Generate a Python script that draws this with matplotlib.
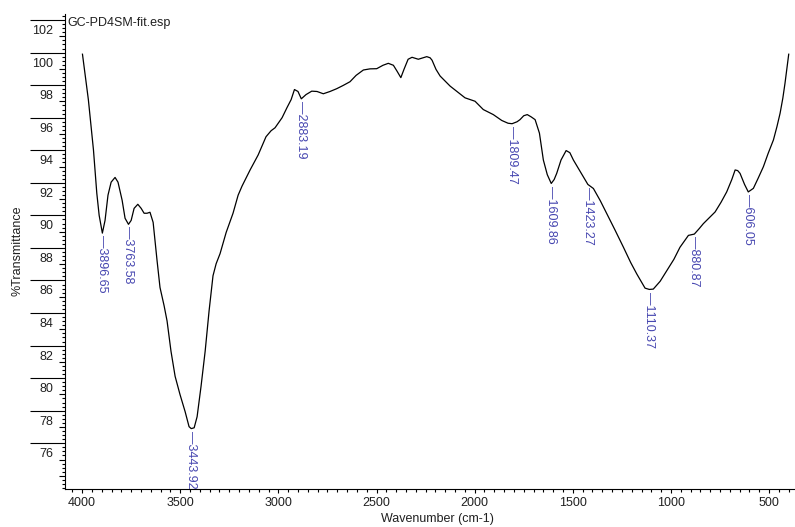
import numpy as np
import matplotlib
matplotlib.use("Agg")
import matplotlib.pyplot as plt
from matplotlib.ticker import FixedLocator, MultipleLocator, FuncFormatter
from matplotlib.transforms import ScaledTranslation

plt.rcParams['font.family'] = ['Liberation Sans', 'DejaVu Sans']

# IR spectrum, wavenumber (cm-1) vs %T
wavenumber = [3998, 3968, 3942, 3925, 3913, 3896.65, 3883, 3868, 3852, 3832,
              3817, 3796, 3781, 3763.58, 3750, 3735, 3716, 3699, 3684, 3669,
              3654, 3638, 3618, 3603, 3582, 3567, 3547, 3526, 3501, 3475,
              3455, 3443.92, 3429, 3414, 3394, 3373, 3353, 3333, 3317, 3297,
              3266, 3231, 3205, 3185, 3144, 3103, 3063, 3037, 3017, 2981,
              2956, 2935, 2918, 2900, 2883.19, 2859, 2830, 2803, 2771, 2737,
              2703, 2670, 2635, 2604, 2567, 2533, 2499, 2467, 2440, 2414,
              2395, 2376, 2360, 2339, 2319, 2287, 2263, 2244, 2227, 2217,
              2197, 2176, 2125, 2049, 1998, 1956, 1905, 1862, 1830, 1809.47,
              1784, 1769, 1750, 1732, 1712, 1692, 1670, 1650, 1630, 1609.86,
              1595, 1582, 1560, 1534, 1515, 1497, 1470, 1446, 1423.27, 1395,
              1360, 1327, 1285, 1242, 1205, 1174, 1132, 1110.37, 1090, 1055,
              1021, 985, 954, 911, 880.87, 855, 835, 805, 775, 745,
              716, 690, 673, 660, 648, 625, 606.05, 580, 555, 529,
              505, 478, 460, 444, 430, 419, 400]
transmittance = [99.90, 97.11, 94.02, 91.36, 90.00, 88.91, 89.69, 91.24, 92.04, 92.33,
                 92.04, 90.93, 89.82, 89.45, 89.69, 90.43, 90.68, 90.43, 90.13, 90.13,
                 90.19, 89.57, 87.22, 85.57, 84.44, 83.51, 81.65, 80.11, 78.99, 77.94,
                 77.02, 76.90, 76.95, 77.63, 79.49, 81.65, 84.13, 86.29, 87.03, 87.65,
                 88.95, 90.13, 91.24, 91.80, 92.79, 93.71, 94.83, 95.20, 95.38, 96.00,
                 96.62, 97.11, 97.73, 97.61, 97.16, 97.42, 97.63, 97.61, 97.47, 97.61,
                 97.78, 97.98, 98.21, 98.60, 98.93, 99.00, 99.01, 99.22, 99.34, 99.22,
                 98.85, 98.46, 98.97, 99.59, 99.71, 99.59, 99.68, 99.75, 99.68, 99.53,
                 98.97, 98.56, 97.94, 97.22, 97.01, 96.50, 96.19, 95.83, 95.66, 95.63,
                 95.75, 95.88, 96.12, 96.19, 96.05, 95.88, 95.05, 93.40, 92.50, 91.96,
                 92.20, 92.58, 93.40, 93.98, 93.85, 93.40, 92.85, 92.37, 91.90, 91.65,
                 90.90, 90.11, 89.10, 88.04, 87.10, 86.40, 85.53, 85.45, 85.47, 85.95,
                 86.60, 87.30, 88.04, 88.77, 88.85, 89.20, 89.49, 89.85, 90.21, 90.80,
                 91.44, 92.20, 92.79, 92.75, 92.58, 91.90, 91.44, 91.66, 92.30, 92.99,
                 93.80, 94.63, 95.45, 96.27, 97.20, 98.11, 99.90]

peaks = [3896.65, 3763.58, 3443.92, 2883.19, 1809.47, 1609.86,
         1423.27, 1110.37, 880.87, 606.05]

y_major = list(range(74, 103))

fig = plt.figure(figsize=(7.95, 5.27), dpi=100)
ax = fig.add_axes([65 / 795, 1 - 489 / 527, 730 / 795, 475 / 527])

ax.plot(wavenumber, transmittance, color='black', lw=0.9)

ax.set_xlim(4087, 368)
ax.set_ylim(73.19, 102.37)

for s in ['top', 'right']:
    ax.spines[s].set_visible(False)
for s in ['left', 'bottom']:
    ax.spines[s].set_linewidth(0.8)

# x axis
ax.xaxis.set_major_locator(MultipleLocator(500))
ax.xaxis.set_minor_locator(MultipleLocator(50))
ax.tick_params(axis='x', which='major', length=3.2, width=0.8, pad=2.5,
               labelsize=9, labelcolor='#202020')
ax.tick_params(axis='x', which='minor', length=2.4, width=0.8)

# y axis: long lines at even values, label under each line
ax.yaxis.set_major_locator(FixedLocator(y_major))
ax.yaxis.set_minor_locator(MultipleLocator(0.25))
ax.yaxis.set_major_formatter(FuncFormatter(
    lambda v, p: f'{int(round(v))}' if round(v) % 2 == 0 and v > 75 else ''))
ax.tick_params(axis='y', which='major', length=25.2, width=0.8, pad=-16.6,
               labelsize=9, labelcolor='#202020')
ax.tick_params(axis='y', which='minor', length=2.4, width=0.8)

for loc, tick in zip(ax.yaxis.get_majorticklocs(), ax.yaxis.get_major_ticks()):
    if round(loc) % 2 == 1 or loc < 75:
        tick.tick1line.set_markersize(4.0)

shift = ScaledTranslation(0, -0.095, fig.dpi_scale_trans)
for lbl in ax.get_yticklabels():
    lbl.set_transform(lbl.get_transform() + shift)

ax.set_xlabel('Wavenumber (cm-1)', fontsize=9, color='#202020')
ax.xaxis.label.set_va('center')
ax.xaxis.set_label_coords(0.5096, -0.0632)
ax.set_ylabel('%Transmittance', fontsize=9, color='#202020')
ax.yaxis.label.set_va('center')
ax.yaxis.set_label_coords(-0.0644, 0.501)

fig.text(67 / 795, 1 - 23 / 527, 'GC-PD4SM-fit.esp', fontsize=9,
         ha='left', va='center', color='#202020')

# peak markers
wn_sorted = np.array(wavenumber[::-1])
tr_sorted = np.array(transmittance[::-1])
for p in peaks:
    t = np.interp(p, wn_sorted, tr_sorted)
    ax.annotate('\u2014' + f'{p:.2f}', xy=(p, t), xytext=(0, -1.5),
                textcoords='offset points', rotation=270,
                ha='center', va='top', fontsize=9, color='#4646b0')

fig.savefig('out.png', dpi=100)
